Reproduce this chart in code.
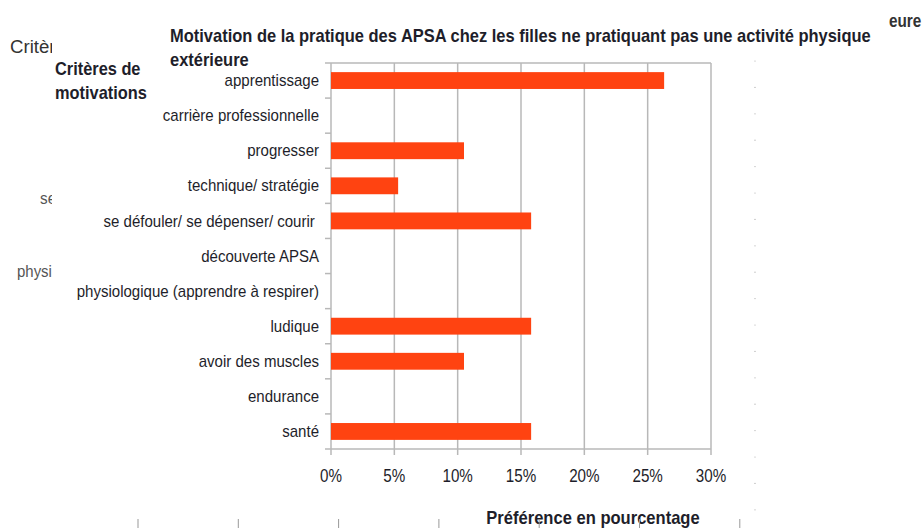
<!DOCTYPE html>
<html>
<head>
<meta charset="utf-8">
<script src="https://cdn.jsdelivr.net/npm/d3@7"></script>
<style>
  body { margin: 0; background: #fff; }
  svg { display: block; font-family: "Liberation Sans", Arial, sans-serif; }
</style>
</head>
<body>
<div id="chart"></div>
<script>
// Categories, top to bottom
const categories = [
  'apprentissage',
  'carrière professionnelle',
  'progresser',
  'technique/ stratégie',
  'se défouler/ se dépenser/ courir ',
  'découverte APSA',
  'physiologique (apprendre à respirer)',
  'ludique',
  'avoir des muscles',
  'endurance',
  'santé',
];
// Percentages
const values = [26.3, 0, 10.5, 5.3, 15.8, 0, 0, 15.8, 10.5, 0, 15.8];
const xTicks = [0, 5, 10, 15, 20, 25, 30];

const titleLines = [
  'Motivation de la pratique des APSA chez les filles ne pratiquant pas une activité physique',
  'extérieure',
];
const yTitleLines = ['Critères de', 'motivations'];
const xTitle = 'Préférence en pourcentage';

const width = 924;
const height = 528;
const margin = { top: 63, left: 331, right: 213, bottom: 79 };

const gridColor = '#b8b8b8';
const textColor = '#1e1e2a';

const svg = d3
  .select('#chart')
  .append('svg')
  .attr('width', width)
  .attr('height', height);

// the source picture uses a condensed face, so squeeze text horizontally
const squeeze = (sel, px, py, sx) =>
  sel.attr('transform', (d, i) => `translate(${px(d, i)},${py(d, i)}) scale(${sx},1)`);

const x = d3
  .scaleLinear()
  .domain([0, 30])
  .range([margin.left, width - margin.right]);

const y = d3
  .scaleBand()
  .domain(categories)
  .range([margin.top, height - margin.bottom])
  .paddingInner(0.52)
  .paddingOuter(0.26);

// vertical grid, ticks below the axis included
svg
  .append('g')
  .selectAll('line')
  .data(xTicks)
  .join('line')
  .attr('x1', (d) => x(d))
  .attr('x2', (d) => x(d))
  .attr('y1', margin.top)
  .attr('y2', height - margin.bottom + 6)
  .attr('stroke', gridColor)
  .attr('stroke-width', 1.5);

// top frame line
svg
  .append('line')
  .attr('x1', x(0))
  .attr('x2', x(30))
  .attr('y1', margin.top)
  .attr('y2', margin.top)
  .attr('stroke', gridColor)
  .attr('stroke-width', 1.5);

// bottom axis line
svg
  .append('line')
  .attr('x1', x(0) - 6)
  .attr('x2', x(30))
  .attr('y1', height - margin.bottom)
  .attr('y2', height - margin.bottom)
  .attr('stroke', gridColor)
  .attr('stroke-width', 1.5);

// left axis ticks between categories
const gap = (y.step() - y.bandwidth()) / 2;
svg
  .append('g')
  .selectAll('line')
  .data(categories)
  .join('line')
  .attr('x1', x(0) - 6)
  .attr('x2', x(0))
  .attr('y1', (d) => y(d) - gap)
  .attr('y2', (d) => y(d) - gap)
  .attr('stroke', gridColor)
  .attr('stroke-width', 1.5);

// bars
svg
  .append('g')
  .selectAll('rect')
  .data(categories)
  .join('rect')
  .attr('x', x(0))
  .attr('y', (d) => y(d))
  .attr('width', (d, i) => x(values[i]) - x(0))
  .attr('height', y.bandwidth())
  .attr('fill', '#ff4311');

// category labels
svg
  .append('g')
  .selectAll('text')
  .data(categories)
  .join('text')
  .attr('dy', '0.35em')
  .attr('text-anchor', 'end')
  .attr('font-size', 16)
  .attr('fill', textColor)
  .style('white-space', 'pre')
  .text((d) => d)
  .call(squeeze, () => x(0) - 12, (d) => y(d) + y.bandwidth() / 2, 0.94);

// x tick labels
svg
  .append('g')
  .selectAll('text')
  .data(xTicks)
  .join('text')
  .attr('text-anchor', 'middle')
  .attr('font-size', 19)
  .attr('fill', textColor)
  .text((d) => d + '%')
  .call(squeeze, (d) => x(d), () => height - margin.bottom + 33, 0.8);

// title
svg
  .append('g')
  .selectAll('text')
  .data(titleLines)
  .join('text')
  .attr('font-size', 18)
  .attr('font-weight', 'bold')
  .attr('fill', textColor)
  .text((d) => d)
  .call(squeeze, () => 170, (d, i) => 42 + i * 24, 0.915);

// y axis title
svg
  .append('g')
  .selectAll('text')
  .data(yTitleLines)
  .join('text')
  .attr('font-size', 18)
  .attr('font-weight', 'bold')
  .attr('fill', textColor)
  .text((d) => d)
  .call(squeeze, () => 55, (d, i) => 75 + i * 24, 0.91);

// x axis title
svg
  .append('text')
  .attr('text-anchor', 'middle')
  .attr('font-size', 18)
  .attr('font-weight', 'bold')
  .attr('fill', textColor)
  .text(xTitle)
  .attr('transform', 'translate(593,524) scale(0.92,1)');

// leftover fragments of an underlying chart, clipped at the left
svg
  .append('defs')
  .append('clipPath')
  .attr('id', 'leftclip')
  .append('rect')
  .attr('x', 0)
  .attr('y', 0)
  .attr('width', 52)
  .attr('height', height);

const ghost = svg.append('g').attr('clip-path', 'url(#leftclip)');
ghost.append('text').attr('font-size', 19).attr('fill', '#333').text('Critères')
  .attr('transform', 'translate(10,53) scale(0.98,1)');
ghost.append('text').attr('font-size', 17).attr('fill', '#555').text('se défouler')
  .attr('transform', 'translate(40,204) scale(0.9,1)');
ghost.append('text').attr('font-size', 17).attr('fill', '#555').text('physiologique')
  .attr('transform', 'translate(17,277) scale(0.88,1)');

svg
  .append('text')
  .attr('font-size', 18)
  .attr('font-weight', 'bold')
  .attr('fill', '#333')
  .text('eure')
  .attr('transform', 'translate(889,27) scale(0.85,1)');

// faint dotted column on the right
svg
  .append('g')
  .selectAll('circle')
  .data(d3.range(18))
  .join('circle')
  .attr('cx', 755)
  .attr('cy', (d) => 61 + d * 26.4)
  .attr('r', 0.6)
  .attr('fill', '#aaa');

// small ticks along the bottom edge
svg
  .append('g')
  .selectAll('line')
  .data(d3.range(7))
  .join('line')
  .attr('x1', (d) => 138 + d * 100.3)
  .attr('x2', (d) => 138 + d * 100.3)
  .attr('y1', 519)
  .attr('y2', 528)
  .attr('stroke', '#999');
</script>
</body>
</html>
